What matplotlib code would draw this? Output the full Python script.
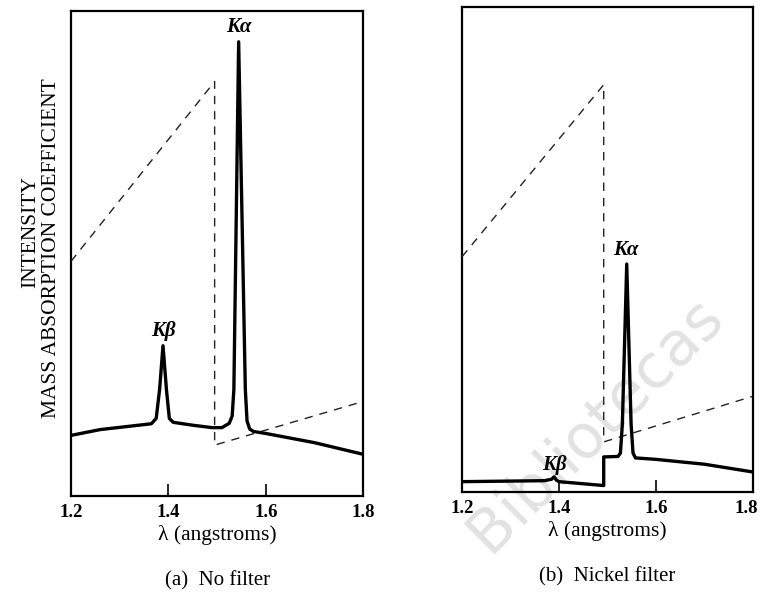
import matplotlib
matplotlib.use("Agg")
import matplotlib.pyplot as plt
import matplotlib.transforms as mtransforms

plt.rcParams['font.family'] = ['Liberation Serif', 'DejaVu Serif']

# (a) no filter: intensity curve (wavelength in angstroms, relative height 0-100)
wl_a = [1.20, 1.26, 1.33, 1.365, 1.375, 1.382, 1.389, 1.396, 1.402, 1.41, 1.45, 1.49,
        1.51, 1.525, 1.531, 1.5345, 1.5443, 1.558, 1.5615, 1.567, 1.575, 1.60, 1.70, 1.80]
int_a = [12.5, 13.7, 14.5, 14.9, 16.0, 22.0, 31.0, 22.0, 16.0, 15.2, 14.6, 14.1,
         14.1, 15.0, 16.5, 22.0, 93.7, 22.0, 15.5, 13.8, 13.3, 12.9, 11.0, 8.6]

# (b) nickel filter
wl_b = [1.20, 1.37, 1.385, 1.39, 1.395, 1.40, 1.4925, 1.4925, 1.522, 1.527, 1.531,
        1.540, 1.549, 1.553, 1.558, 1.60, 1.70, 1.80]
int_b = [2.1, 2.3, 2.6, 3.1, 2.4, 2.1, 1.3, 7.2, 7.3, 8.0, 14.0,
         47.0, 14.0, 8.0, 7.0, 6.7, 5.7, 4.1]

# mass absorption coefficient of nickel (dashed), with the K edge
mu_wl_a = [1.20, 1.495, 1.495, 1.80]
mu_a = [48.4, 85.5, 10.5, 19.5]
mu_wl_b = [1.20, 1.4925, 1.4925, 1.80]
mu_b = [48.5, 84.0, 10.3, 19.7]

ticks = [1.2, 1.4, 1.6, 1.8]
tick_labels = ['1.2', '1.4', '1.6', '1.8']

fig = plt.figure(figsize=(7.63, 5.94), dpi=100)
ax1 = fig.add_axes([0.093, 0.165, 0.383, 0.816])
ax2 = fig.add_axes([0.6055, 0.172, 0.381, 0.816])

panels = [
    (ax1, wl_a, int_a, mu_wl_a, mu_a, (1.544, 96.8), (1.389, 34.0), '(a)  No filter'),
    (ax2, wl_b, int_b, mu_wl_b, mu_b, (1.5386, 49.8), (1.39, 5.6), '(b)  Nickel filter'),
]

for ax, wl, inten, mwl, mu, ka_pos, kb_pos, caption in panels:
    ax.plot(mwl, mu, color='#222222', lw=1.0, dashes=(6, 5), zorder=3)
    ax.plot(wl, inten, color='black', lw=2.4, solid_joinstyle='round', zorder=4)
    ax.set_xlim(1.2, 1.8)
    ax.set_ylim(0, 100)
    ax.set_xticks(ticks)
    ax.set_xticklabels(tick_labels, fontsize=13.5, fontweight='bold')
    ax.set_yticks([])
    ax.tick_params(axis='x', direction='in', length=9, width=1.2, pad=6)
    for s in ax.spines.values():
        s.set_linewidth(1.6)
    ax.set_xlabel('λ (angstroms)', fontsize=15.5, labelpad=3)
    ax.text(ka_pos[0], ka_pos[1], 'Kα', fontsize=15, fontstyle='italic', fontweight='bold',
            ha='center', va='center', zorder=5)
    ax.text(kb_pos[0], kb_pos[1], 'Kβ', fontsize=15, fontstyle='italic', fontweight='bold',
            ha='center', va='center', zorder=5)
    ax.text(0.5, -0.175, caption, transform=ax.transAxes, fontsize=15, ha='center', va='center')
    ax.patch.set_alpha(0)

# keep the last label of panel (b) inside the figure edge
last = ax2.get_xticklabels()[-1]
last.set_transform(last.get_transform() + mtransforms.ScaledTranslation(-6 / 100, 0, fig.dpi_scale_trans))

fig.text(0.040, 0.61, 'INTENSITY', rotation=90, fontsize=15.5, ha='center', va='center')
fig.text(0.068, 0.583, 'MASS ABSORPTION COEFFICIENT', rotation=90, fontsize=15.5,
         ha='center', va='center')

# watermark of the scanned source, behind the axes
fig.text(0.78, 0.285, 'Bibliotecas', rotation=45, fontsize=44, color='#e2e2e2',
         family='DejaVu Sans', ha='center', va='center', zorder=-1)

fig.savefig('out.png', dpi=100)
